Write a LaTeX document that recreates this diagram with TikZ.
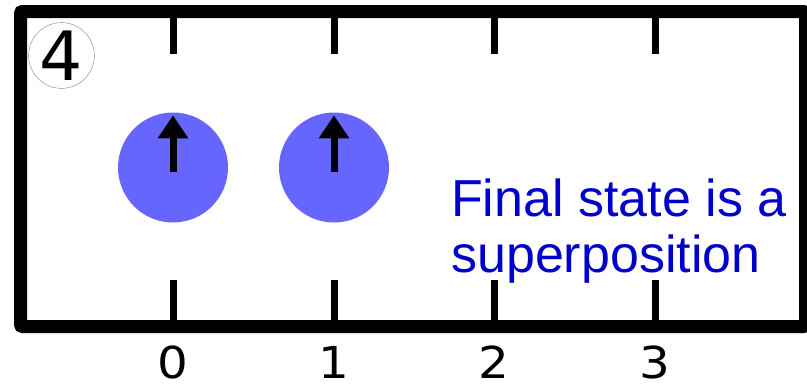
\documentclass[tikz,border=0pt]{standalone}
\usepackage{fontspec}
\setmainfont{Liberation Sans}
\newfontfamily\digitfont{DejaVu Sans}
\usetikzlibrary{arrows.meta, positioning}
\definecolor{spinblue}{RGB}{102, 102, 255}
\definecolor{notedark}{RGB}{0, 0, 204}

\tikzset{
  frameline/.style={line width=13pt, rounded corners=2pt},
  tickline/.style={line width=7pt},
  spin/.style={circle, fill=spinblue, minimum size=110pt, inner sep=0pt},
  spinarrow/.style={line width=7pt, -{Triangle[width=29pt, length=23pt]}},
  ticklabel/.style={font=\digitfont\fontsize{44}{50}\selectfont, anchor=base,
    inner sep=0pt, text depth=0pt, xscale=1.1},
}

\begin{document}
\begin{tikzpicture}[x=1pt, y=-1pt]

% ============================================================
% 画布
% ============================================================
\useasboundingbox (0,0) rectangle (807,384);
\clip (0,0) rectangle (807,384);
\fill[white] (0,0) rectangle (807,384);

% 外框（右边被裁掉一部分）
\draw[frameline] (20.5,11.5) rectangle (805.5,326.5);

% 格点刻度 0..3
\foreach \i/\x in {0/173,1/334,2/494,3/655} {
  \draw[tickline] (\x,11.5) -- (\x,54);
  \draw[tickline] (\x,280) -- (\x,326.5);
  \node[ticklabel] (lbl\i) at (\x,378) {\i};
}

% 步骤编号
\node[circle, draw=gray, thin, minimum size=63pt, inner sep=0pt,
  font=\digitfont\fontsize{68}{68}\selectfont] (step4) at (61.5,55.5) {4};

% 两个自旋
\node[spin] (s0) at (173,167.5) {};
\node[spin] (s1) at (334,167.5) {};
\draw[spinarrow] ([yshift=-4.5pt]s0.center) -- ([yshift=-3pt]s0.north);
\draw[spinarrow] ([yshift=-4.5pt]s1.center) -- ([yshift=-3pt]s1.north);

% 说明文字（base 取最后一行）
\node[notedark, font=\fontsize{52}{56}\selectfont, align=left,
  anchor=base west, inner sep=0pt] (note) at (451,272)
  {Final state is a\\superposition};

\end{tikzpicture}
\end{document}
